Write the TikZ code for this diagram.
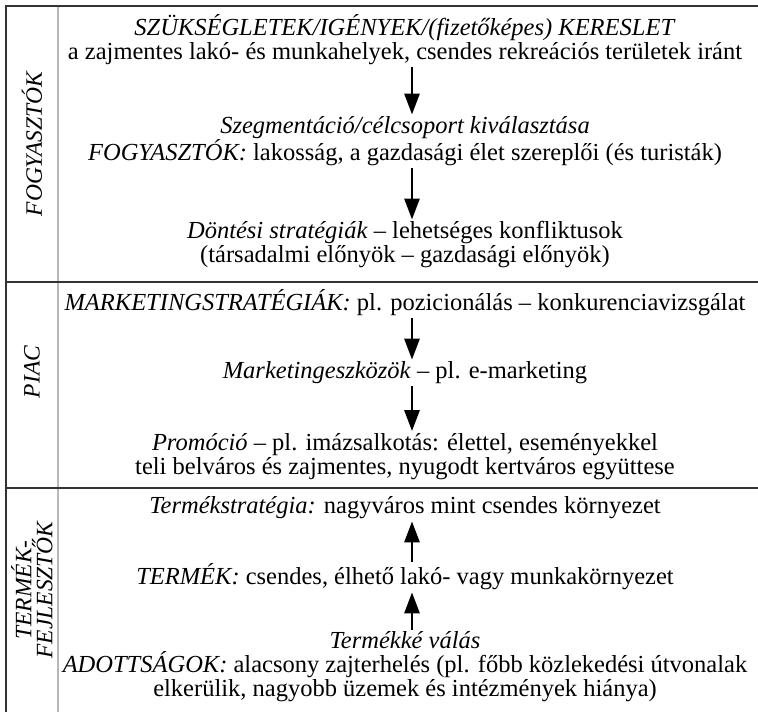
\documentclass[tikz,border=0pt]{standalone}
\usepackage{fontspec}
\setmainfont{Liberation Serif}
\usetikzlibrary{arrows.meta,positioning}

\begin{document}
\begin{tikzpicture}[x=1pt,y=-1pt,
    txt/.style={align=center, inner sep=2pt, font=\fontsize{24.5}{24}\selectfont},
    lbl/.style={rotate=90, align=center, font=\fontsize{23.5}{21}\selectfont\itshape},
    flow/.style={-{Triangle[length=21pt,width=15pt]}, line width=2.8pt},
    rule/.style={draw=black!80, line width=2pt},
    colrule/.style={draw=black!28, line width=2pt}]
    \useasboundingbox (0,0) rectangle (758,712);

    %% frame and rows
    \draw[colrule] (58,6) -- (58,712);
    \draw[rule] (6,712) -- (6,6) -- (758,6);
    \draw[rule] (6,282) -- (758,282);
    \draw[rule] (6,488) -- (758,488);

    %% row labels
    \node[lbl] (fogy) at (32,144) {FOGYASZTÓK};
    \node[lbl] (piac) at (32,372) {PIAC};
    \node[lbl] (fejl) at (32,590) {TERMÉK-\\FEJLESZTŐK};

    \node[txt] (need) at (405,40) {\textit{SZÜKSÉGLETEK/IGÉNYEK/(fizetőképes) KERESLET}\\
        a zajmentes lakó- és munkahelyek, csendes rekreációs területek iránt};
    \node[txt] (segm) at (405,141.5) {\textit{Szegmentáció/célcsoport kiválasztása}\\
        \textit{FOGYASZTÓK:} lakosság, a gazdasági élet szereplői (és turisták)};
    \node[txt] (dec) at (405,245) {\textit{Döntési stratégiák} – lehetséges konfliktusok\\
        (társadalmi előnyök – gazdasági előnyök)};

    \node[txt] (mstrat) at (405,303) {\textit{MARKETINGSTRATÉGIÁK:} pl. pozicionálás – konkurenciavizsgálat};
    \node[txt] (mtool) at (405,373) {\textit{Marketingeszközök} – pl. e-marketing};
    \node[txt] (promo) at (405,456.5) {\textit{Promóció} – pl. imázsalkotás: élettel, eseményekkel\\
        teli belváros és zajmentes, nyugodt kertváros együttese};

    \node[txt] (pstrat) at (405,508) {\textit{Termékstratégia:} nagyváros mint csendes környezet};
    \node[txt] (prod) at (405,577) {\textit{TERMÉK:} csendes, élhető lakó- vagy munkakörnyezet};
    \node[txt] (given) at (405,667) {\textit{Termékké válás}\\
        \textit{ADOTTSÁGOK:} alacsony zajterhelés (pl. főbb közlekedési útvonalak\\
        elkerülik, nagyobb üzemek és intézmények hiánya)};

    \foreach \a/\b in {need/segm, segm/dec, mstrat/mtool, mtool/promo}
        \draw[flow] ([xshift=7pt]\a.south) -- ([xshift=7pt]\b.north);
    \foreach \a/\b in {given/prod, prod/pstrat}
        \draw[flow] ([xshift=7pt]\a.north) -- ([xshift=7pt]\b.south);
\end{tikzpicture}
\end{document}
